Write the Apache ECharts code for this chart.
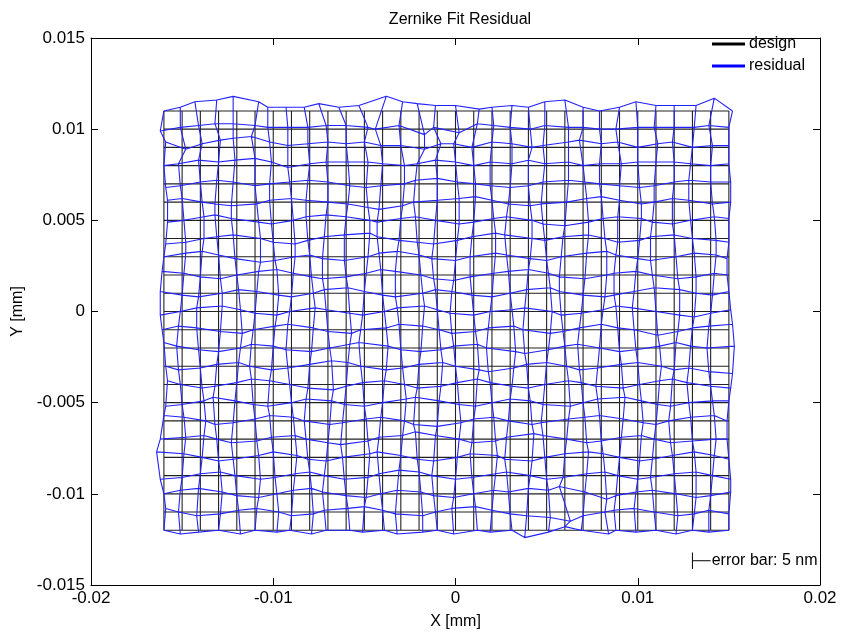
<!DOCTYPE html>
<html>
<head>
<meta charset="utf-8">
<script src="https://cdn.jsdelivr.net/npm/echarts@6/dist/echarts.min.js"></script>
<style>
  html, body { margin: 0; padding: 0; background: #fff; }
  #main { width: 841px; height: 639px; }
</style>
</head>
<body>
<div id="main"></div>
<script>
// design grid node positions [mm]
var gridX = [-0.016, -0.015, -0.014, -0.013, -0.012, -0.011, -0.010, -0.009, -0.008, -0.007, -0.006,
  -0.005, -0.004, -0.003, -0.002, -0.001, 0.000, 0.001, 0.002, 0.003, 0.004, 0.005, 0.006,
  0.007, 0.008, 0.009, 0.010, 0.011, 0.012, 0.013, 0.014, 0.015];
var gridY = [0.011, 0.010, 0.009, 0.008, 0.007, 0.006, 0.005, 0.004, 0.003, 0.002, 0.001, 0.000,
  -0.001, -0.002, -0.003, -0.004, -0.005, -0.006, -0.007, -0.008, -0.009, -0.010, -0.011, -0.012];

// plotted residual offset of every node, in units of 1e-4 mm (rows top -> bottom)
var residualDx = [
  [ 0,-1,-3,-1,-2, 2,-3,-3,-3,-5,-4,-3, 2, 1,-1,-1, 0, 3, 0, 1, 0,-1, 0, 0,-1, 0,-1, 0, 0, 2, 2, 2],
  [-2,-1,-1,-2,-2, 0,-3,-2,-1,-1, 0, 2,-4,-1, 3,-2, 2, 2, 1, 0, 1,-1, 2, 0,-1,-2, 0,-1, 0, 1,-1, 0],
  [ 1, 2, 1, 1,-2,-2,-2,-2,-1, 0, 0, 0,-1, 0, 3, 2,-1,-1, 0, 1, 2,-2, 2,-2, 0,-1, 0, 1,-1, 0, 1, 0],
  [ 0,-2,-1, 0,-1, 0,-1,-2, 0,-1, 1, 2, 0, 2,-1,-1, 0, 0,-1, 1, 0,-1, 2, 0,-1, 1, 0, 0, 0,-1, 0, 0],
  [ 1,-1, 0,-1,-2, 0,-2,-1,-1, 0, 2, 1,-1, 2,-2, 0, 1, 1,-1, 0, 0,-2, 2, 1,-1, 0, 1,-1, 0,-2, 0, 1],
  [ 2, 0, 1,-2,-3, 1,-2, 0,-2, 0, 1, 2,-2, 1,-3, 0, 2, 1, 0,-1, 1,-3, 1, 2, 0, 0, 2,-1,-1,-2, 1, 1],
  [ 2, 1, 2,-2,-3, 2,-1, 1,-2,-1, 0, 3,-3, 0,-2,-1, 2, 0, 1,-2, 2,-2, 0, 3, 1,-1, 2,-2,-1,-1, 2, 0],
  [ 1, 2, 2,-1,-2, 3, 0, 2,-1,-2,-1, 3,-3,-1,-1,-2, 1,-1, 2,-3, 2,-1,-1, 3, 2,-1, 1,-3, 0, 0, 3, 0],
  [ 0, 2, 1, 0,-1, 3, 1, 2, 0,-3,-1, 2,-2,-2, 0,-3, 0,-2, 2,-2, 1, 0,-2, 2, 3,-2, 0,-3, 1, 1, 3,-1],
  [-1, 1, 0, 1, 0, 2, 2, 1, 1,-3, 0, 1,-1,-3, 1,-2,-1,-2, 1,-1, 0, 1,-3, 1, 3,-3,-1,-2, 2, 2, 2,-1],
  [-2, 0,-1, 2, 1, 1, 3, 0, 2,-2, 1, 0, 0,-3, 2,-1,-2,-1, 0, 0,-1, 2,-3, 0, 2,-3,-2,-1, 3, 2, 1, 0],
  [-2,-1,-2, 2, 2, 0, 2,-1, 3,-1, 2,-1, 1,-2, 3, 0,-3, 0,-1, 1,-2, 3,-2,-1, 1,-2,-3, 0, 3, 1, 0, 1],
  [-1,-2,-2, 1, 3,-1, 1,-2, 2, 0, 3,-2, 2,-1, 2, 1,-2, 1,-2, 2,-3, 2,-1,-2, 0,-1,-2, 1, 2, 0,-1, 2],
  [ 0,-3,-1, 0, 2,-2, 0,-3, 1, 1, 2,-3, 3, 0, 1, 2,-1, 2,-3, 3,-2, 1, 0,-3,-1, 0,-1, 2, 1,-1,-2, 3],
  [ 1,-2, 0,-1, 1,-3,-1,-2, 0, 2, 1,-2, 2, 1, 0, 3, 0, 3,-2, 2,-1, 0, 1,-2,-2, 1, 0, 3, 0,-2,-1, 2],
  [ 2,-1, 1,-2, 0,-2,-2,-1,-1, 3, 0,-1, 1, 2,-1, 2, 1, 2,-1, 1, 0,-1, 2,-1,-3, 2, 1, 2,-1,-3, 0, 1],
  [ 1, 0, 2,-3,-1,-1,-3, 0,-2, 2,-1, 0, 0, 3,-2, 1, 2, 1, 0, 0, 1,-2, 3, 0,-2, 3, 2, 1,-2,-2, 1, 0],
  [ 0, 1, 3,-2,-2, 0,-2, 1,-3, 1,-2, 1,-1, 2,-3, 0, 3, 0, 1,-1, 2,-3, 2, 1,-1, 2, 3, 0,-3,-1, 2,-1],
  [-2, 2, 2,-1,-3, 1,-1, 2,-2, 0,-3, 2,-2, 1,-2,-1, 2,-1, 2,-2, 3,-2, 1, 2, 0, 1, 2,-1,-2, 0, 3,-1],
  [-4, 1, 1, 0,-2, 2, 0, 3,-1,-1,-2, 3,-3, 0,-1,-2, 1,-2, 3,-3, 2,-1, 0, 3, 1, 0, 1,-2,-1, 1, 2, 0],
  [-2, 0, 0, 1,-1, 3, 1, 2, 0,-2,-1, 2,-2,-1, 0,-3, 0,-1, 2,-2, 1, 0,-1, 2, 2,-1, 0,-3, 0, 2, 1, 1],
  [ 0,-1,-1, 2, 0, 2, 2, 1, 1,-3, 0, 1,-1,-2, 1,-2,-1, 0, 1,-1, 0, 1,-3, 1, 3,-2,-1,-2, 1, 2, 0, 1],
  [ 1,-2,-2, 1, 1, 1, 3, 0, 2,-2, 1, 0, 0,-3, 2,-1,-2, 1, 0, 0,-1, 2, 3, 0, 2,-3,-2,-1, 2, 1,-1, 0],
  [ 0,-1,-1, 0, 2, 0, 2,-1, 1,-1, 2,-1, 1,-2, 2, 0,-1, 2,-1, 1,-2, 1, 0,-1, 4,-2,-1, 0, 1, 0,-1, 0]
];
var residualDy = [
  [ 0, 2, 5, 6, 8, 5, 2, 2, 2, 4, 2, 3, 8, 5, 4, 3, 3, 1, 2, 3, 2, 5, 6, 2, 0, 2, 5, 3, 3, 3, 7, 0],
  [-1, 1, 2, 3, 3, 2, 1, 1, 1, 2, 2, 1, 0, 2,-3, 1,-2, 3, 2, 1, 0, 2, 1, 1, 0, 0, 1, 1, 1, 1, 2, 1],
  [ 3,-1, 2, 4, 5, 6, 3, 1, 2, 3, 2, 3, 1, 1,-1, 2, 2, 0, 3, 2, 0, 1, 3, 4, 2, 3, 0, 2, 3, 0, 1, 1],
  [ 0, 1, 3, 2, 3, 4, 2,-1, 1, 2, 2, 2, 1, 0, 1, 3, 2, 0, 2, 1, 3, 1, 2, 0, 1, 1, 2, 2, 2, 1, 0, 1],
  [-2,-1, 1, 2, 1,-1, 0, 1, 2, 1,-1,-2,-1, 0, 2, 3, 1, 0,-1,-2,-1, 1, 2, 1, 0,-1,-2,-1, 1, 2, 1, 1],
  [ 1, 2, 0,-1,-2,-1, 1, 2, 1, 0,-1,-3,-4,-2, 0, 1, 2, 3, 1,-1,-2,-1, 0, 2, 3, 1,-1, 0, 2, 1,-1, 0],
  [-1, 0, 2, 3, 1,-1,-2, 0, 2, 3, 2, 0,-1, 1, 2, 0,-2,-1, 1, 2, 0,-2,-3,-1, 1, 2, 1,-1,-2, 0, 2, 1],
  [-3,-2, 0, 1, 2, 0,-2,-3,-1, 1, 2, 3, 1,-1,-2,-3,-1, 1, 3, 2, 0,-1, 1, 2, 0,-2,-1, 1, 2, 0,-1,-2],
  [ 0, 2, 3, 1,-1,-3,-2, 0, 1,-1,-2, 0, 2, 3, 1,-1,-2, 0, 2, 1,-1,-2, 0, 2, 3, 1,-1,-2, 0, 2, 1,-1],
  [ 2, 1,-1,-2, 0, 2, 3, 1,-1,-2,-1, 1, 3, 2, 0,-2,-3,-1, 1, 2, 3, 1,-1,-2, 0, 1, 2, 0,-2,-1, 1, 0],
  [ 1,-1,-2, 0, 2, 1,-1,-2, 0, 2, 3, 1,-1,-2, 0, 2, 1,-1,-2, 0, 2, 3, 1,-1,-2,-1, 1, 3, 2, 0,-1, 1],
  [-2, 0, 2, 3, 1,-1,-2, 0, 2, 1,-1,-2, 0, 2, 3, 1,-1,-2, 0, 1, 2, 0,-2,-1, 1, 3, 2, 0,-2,-3,-1, 1],
  [ 0, 2, 1,-1,-2, 0, 2, 3, 1,-1,-2, 0, 1, 3, 2, 0,-2,-1, 1, 2, 0,-2,-1, 1, 3, 1, 0,-3,-1, 1, 2, 3],
  [ 3, 1,-1,-2, 0, 2, 1,-1,-2, 0, 2, 3, 1,-1,-2,-1, 1, 2, 0,-2,-3,-1, 1, 2, 0,-2,-1, 1, 3, 1, 0, 1],
  [ 0,-2,-1, 1, 2, 0,-2,-1, 1, 3, 2, 0,-2,-1, 1, 2, 0,-2,-3,-1, 1, 2, 0,-2,-1, 1, 2, 0,-2,-1,-3,-4],
  [ 2, 0,-2,-1, 1, 3, 2, 0,-2,-3,-1, 1, 2, 0,-2,-1, 1, 3, 1,-1,-2, 0, 2, 1,-1,-2, 0, 2, 3, 1,-1,-2],
  [-2,-1, 1, 3, 1,-1,-2, 0, 2, 1,-1,-2, 0, 2, 3, 1,-1,-2, 0, 2, 1,-1,-2, 0, 2, 3, 1,-1,-2, 0, 1, 1],
  [ 3, 2, 0,-2,-1, 1, 3, 2, 0,-2,-1, 1, 2, 0,-2,-3,-1, 1, 2, 0,-2,-1, 1, 2, 3, 1,-1,-2, 0, 2, 3, 0],
  [ 0, 1, 2, 0,-2,-1, 1, 2, 0,-2,-3,-1, 1, 2, 4, 2, 0,-2,-1, 1, 3, 2, 0,-2,-1, 1, 2, 0,-2,-1, 0, 0],
  [ 3, 2, 0,-2,-1, 1, 3, 1,-1,-2, 0, 2, 3, 1,-1,-2, 0, 2, 1,-1,-2, 0, 2, 3, 2, 0,-2,-1, 1, 3, 1,-1],
  [-2,-1, 1, 2, 0,-2,-1, 1, 2, 0,-2,-1, 1, 3, 2, 0,-2,-1, 1, 2, 0,-2,-1, 1, 2, 0,-2,-1, 1, 2, 0,-2],
  [ 0, 2, 3, 1,-1,-2, 0, 2, 3, 1,-1,-2, 0, 2, 1,-1,-2, 0, 2, 1, 3, 2, 4, 1,-3,-1, 1, 2, 0,-2,-1, 1],
  [ 2, 0,-2,-1, 1, 2, 0,-2,-1, 1, 2, 3, 1,-1,-2, 0, 2, 3, 1,-1,-2,-3,-5,-2, 0, 1, 2, 0,-2,-1, 1,-1],
  [ 0,-2,-1, 0,-2, 0,-1, 0,-2, 0, 0,-1, 0,-2,-1, 0,-2, 0,-1, 0,-4,-1, 2, 0,-2, 0,-1, 0,-2, 0,-1, 0]
];
var offsetUnit = 1e-4;

// scale bar: 5 nm residual
var errBarX = [0.013, 0.014];
var errBarY = -0.01367;
var errBarHalf = 0.00045;

// build polylines along rows and columns, '-' breaks the line
function meshLines(getX, getY) {
  var pts = [];
  for (var j = 0; j < gridY.length; j++) {
    for (var i = 0; i < gridX.length; i++) pts.push([getX(i, j), getY(i, j)]);
    pts.push(['-', '-']);
  }
  for (var i = 0; i < gridX.length; i++) {
    for (var j = 0; j < gridY.length; j++) pts.push([getX(i, j), getY(i, j)]);
    pts.push(['-', '-']);
  }
  return pts;
}
var designData = meshLines(function (i, j) { return gridX[i]; }, function (i, j) { return gridY[j]; });
var residualData = meshLines(
  function (i, j) { return gridX[i] + residualDx[j][i] * offsetUnit; },
  function (i, j) { return gridY[j] + residualDy[j][i] * offsetUnit; });
var errBarData = [
  [errBarX[0], errBarY + errBarHalf], [errBarX[0], errBarY - errBarHalf], ['-', '-'],
  [errBarX[0], errBarY], [errBarX[1], errBarY]
];

var FONT = 'Liberation Sans';
var axisLbl = { color: '#000', fontSize: 17, fontFamily: FONT };

function boxAxis(extra) {
  return Object.assign({
    type: 'value',
    axisLine: { show: true, onZero: false, lineStyle: { color: '#000', width: 1 } },
    axisTick: { show: true, inside: true, length: 7, lineStyle: { color: '#000' } },
    axisLabel: { show: false },
    splitLine: { show: false }
  }, extra);
}

var myChart = echarts.init(document.getElementById('main'));
var option = {
  animation: false,
  backgroundColor: '#fff',
  title: {
    text: 'Zernike Fit Residual',
    left: 455, top: 7, textAlign: 'center',
    textStyle: { color: '#000', fontSize: 16, fontWeight: 'normal', fontFamily: FONT }
  },
  legend: {
    data: ['design', 'residual'],
    orient: 'vertical',
    left: 712, top: 36,
    padding: 0,
    icon: 'rect',
    itemWidth: 33, itemHeight: 3, itemGap: 6,
    textStyle: { color: '#000', fontSize: 16, fontFamily: FONT, padding: [0, 0, 0, -1] }
  },
  grid: { left: 91, right: 21, top: 38, bottom: 54 },
  xAxis: [
    boxAxis({
      min: -0.02, max: 0.02, interval: 0.01,
      name: 'X [mm]', nameLocation: 'middle', nameGap: 29,
      nameTextStyle: { color: '#000', fontSize: 16, fontFamily: FONT },
      axisLabel: Object.assign({ show: true, margin: 5 }, axisLbl)
    }),
    boxAxis({ position: 'top', min: -0.02, max: 0.02, interval: 0.01 })
  ],
  yAxis: [
    boxAxis({
      min: -0.015, max: 0.015, interval: 0.005,
      name: 'Y [mm]', nameLocation: 'middle', nameGap: 61, nameRotate: 90,
      nameTextStyle: { color: '#000', fontSize: 16, fontFamily: FONT },
      axisLabel: Object.assign({ show: true, margin: 6 }, axisLbl)
    }),
    boxAxis({ position: 'right', min: -0.015, max: 0.015, interval: 0.005 })
  ],
  series: [{
    name: 'design', type: 'line', data: designData,
    showSymbol: false, connectNulls: false,
    itemStyle: { color: '#000' },
    lineStyle: { color: '#222', width: 1.1 }
  }, {
    name: 'residual', type: 'line', data: residualData,
    showSymbol: false, connectNulls: false,
    itemStyle: { color: '#0000ff' },
    lineStyle: { color: '#2222ff', width: 1.1 }
  }, {
    name: 'errbar', type: 'line', data: errBarData,
    showSymbol: false, connectNulls: false,
    lineStyle: { color: '#000', width: 1 },
    endLabel: {
      show: true, formatter: 'error bar: 5 nm', distance: 1,
      color: '#000', fontSize: 16, fontFamily: FONT
    }
  }]
};
myChart.setOption(option);
</script>
</body>
</html>
